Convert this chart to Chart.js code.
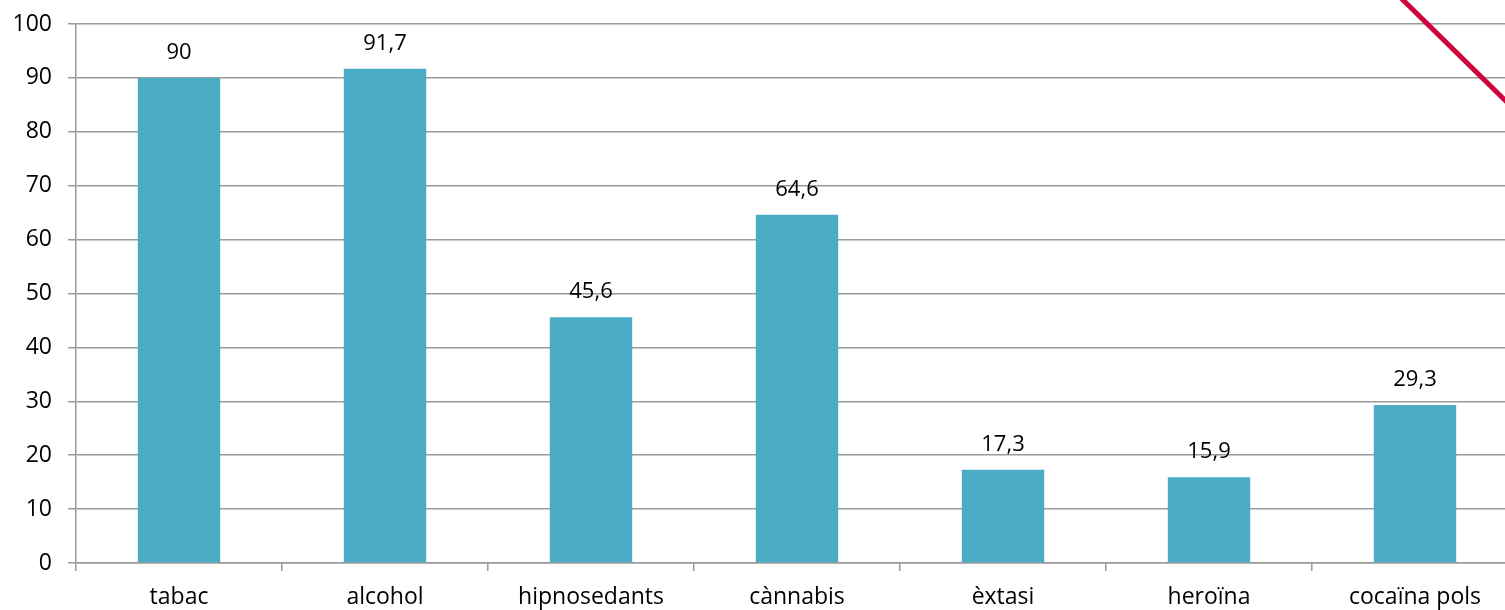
<!DOCTYPE html>
<html>
<head>
<meta charset="utf-8">
<script src="https://cdn.jsdelivr.net/npm/chart.js@4/dist/chart.umd.min.js"></script>
<style>
    html, body { margin: 0; padding: 0; background: #fff; overflow: hidden; }
    #wrap { width: 1520px; height: 610px; }
</style>
</head>
<body>
<div id="wrap"><canvas id="drugChart"></canvas></div>
<script>
    var categories = ['tabac', 'alcohol', 'hipnosedants', 'cànnabis', 'èxtasi', 'heroïna', 'cocaïna pols']
    var values = [90, 91.7, 45.6, 64.6, 17.3, 15.9, 29.3]
    var yTicks = [0, 10, 20, 30, 40, 50, 60, 70, 80, 90, 100]

    var fontFamily = '"Open Sans", sans-serif'

    // labels over the bars, with a decimal comma
    const barLabels = {
        id: 'barLabels',
        afterDatasetsDraw(chart) {
            const ctx = chart.ctx
            const meta = chart.getDatasetMeta(0)
            ctx.save()
            ctx.font = '22px ' + fontFamily
            ctx.fillStyle = '#000'
            ctx.textAlign = 'center'
            ctx.textBaseline = 'alphabetic'
            meta.data.forEach(function (bar, i) {
                var txt = String(values[i]).replace('.', ',')
                ctx.fillText(txt, bar.x, bar.y - 19)
            })
            ctx.restore()
        }
    }

    // the red diagonal stroke seen in the top right corner
    const cornerStroke = {
        id: 'cornerStroke',
        afterDraw(chart) {
            const ctx = chart.ctx
            ctx.save()
            ctx.strokeStyle = '#d0043c'
            ctx.lineWidth = 5
            ctx.beginPath()
            ctx.moveTo(1400, -3)
            ctx.lineTo(1520, 115)
            ctx.stroke()
            ctx.restore()
        }
    }

    const dChart = document.getElementById('drugChart').getContext('2d')

    const drugChart = new Chart(dChart, {
        type: 'bar',
        data: {
            labels: categories,
            datasets: [{
                data: values,
                backgroundColor: '#4bacc6',
                borderWidth: 0,
                categoryPercentage: 1,
                barPercentage: 0.4
            }]
        },
        options: {
            responsive: true,
            maintainAspectRatio: false,
            animation: false,
            layout: { padding: { top: 24, right: 2, left: 0, bottom: 0 } },
            plugins: {
                legend: { display: false },
                tooltip: { enabled: false }
            },
            scales: {
                y: {
                    min: 0,
                    max: 100,
                    afterFit: function (scale) {
                        scale.width = 76
                        scale.paddingTop = 0
                        scale.paddingBottom = 0
                    },
                    afterBuildTicks: function (scale) {
                        scale.ticks = yTicks.map(function (v) { return { value: v } })
                    },
                    ticks: {
                        color: '#000',
                        padding: 16,
                        font: { family: fontFamily, size: 23 }
                    },
                    grid: {
                        color: '#9a9a9a',
                        lineWidth: 1.5,
                        tickLength: 8
                    },
                    border: { color: '#9a9a9a', width: 1.5 }
                },
                x: {
                    afterFit: function (scale) { scale.height = 47 },
                    ticks: {
                        color: '#000',
                        padding: 13,
                        maxRotation: 0,
                        autoSkip: false,
                        font: { family: fontFamily, size: 23 }
                    },
                    grid: {
                        offset: true,
                        drawOnChartArea: false,
                        color: '#9a9a9a',
                        lineWidth: 1.5,
                        tickLength: 8
                    },
                    border: { color: '#9a9a9a', width: 1.5 }
                }
            }
        },
        plugins: [barLabels, cornerStroke]
    })
</script>
</body>
</html>
